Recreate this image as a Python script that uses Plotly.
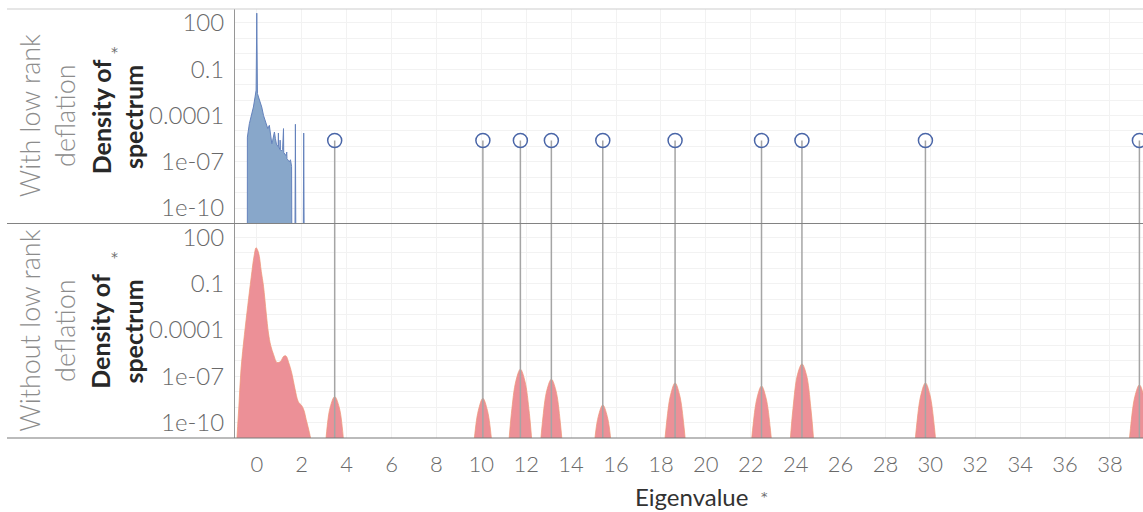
import plotly.graph_objects as go
from plotly.subplots import make_subplots

# ---------------- data ----------------
# Outlier eigenvalues shown as stems, and the density at which they are marked
outlier_eigs = [3.47, 10.07, 11.74, 13.12, 15.41, 18.63, 22.48, 24.28, 29.78, 39.31]
outlier_marker_density = 2.4e-6

# Spectrum with low rank deflation (bulk only), log10 of density
defl_x = [-0.42, -0.418, -0.33, -0.22, -0.15, -0.076, -0.03, 0.0, 0.03, 0.12,
          0.22, 0.30, 0.41, 0.49, 0.56, 0.62, 0.67, 0.71, 0.785, 0.83,
          0.88, 0.95, 0.963, 0.975, 1.0, 1.03, 1.04, 1.05, 1.10, 1.15,
          1.19, 1.20, 1.25, 1.30, 1.335, 1.345, 1.40, 1.45, 1.50, 1.51,
          1.55, 1.56, 1.70, 1.72, 1.74, 2.07, 2.09, 2.11]
defl_logd = [-12, -5.4, -4.53, -3.88, -3.45, -2.8, -2.36, 2.63, -2.58, -3.0,
             -3.45, -4.0, -4.53, -4.85, -4.64, -5.18, -5.83, -5.6, -5.07, -5.5,
             -5.9, -6.0, -5.14, -6.0, -6.1, -6.2, -5.6, -6.2, -6.3, -6.2,
             -4.85, -6.4, -6.5, -6.6, -6.37, -6.8, -6.9, -7.0, -6.87, -7.1,
             -7.3, -12, -12, -4.57, -12, -12, -5.14, -12]

# Spectrum without deflation: bulk hump, log10 of density
bulk_x = [-0.95, -0.9, -0.8, -0.7, -0.55, -0.4, -0.25, -0.12, -0.03, 0.08,
          0.2, 0.3, 0.42, 0.52, 0.62, 0.75, 0.9, 1.05, 1.2, 1.3,
          1.42, 1.56, 1.7, 1.85, 2.0, 2.1, 2.2, 2.32, 2.42, 2.55]
bulk_logd = [-14.0, -11.5, -9.0, -6.5, -4.3, -2.4, -0.6, 0.8, 1.33, 1.0,
             -0.2, -1.17, -2.9, -4.2, -5.0, -5.6, -6.1, -6.05, -5.7, -5.68,
             -6.1, -6.8, -7.8, -8.65, -8.9, -9.2, -9.8, -10.5, -11.2, -13.0]

# Outlier peaks without deflation: offsets from each outlier eigenvalue, log10 density
peak_offsets = [-0.6, -0.4, -0.2, 0.0, 0.2, 0.4, 0.6]
peak_logd = [
    [-14.8, -11.2, -9.0, -8.32, -9.0, -11.2, -14.8],
    [-14.9, -11.3, -9.2, -8.43, -9.2, -11.3, -14.9],
    [-13.0, -9.4, -7.3, -6.54, -7.3, -9.4, -13.0],
    [-13.6, -10.0, -7.9, -7.19, -7.9, -10.0, -13.6],
    [-15.3, -11.7, -9.6, -8.86, -9.6, -11.7, -15.3],
    [-13.9, -10.3, -8.2, -7.43, -8.2, -10.3, -13.9],
    [-14.1, -10.5, -8.4, -7.63, -8.4, -10.5, -14.1],
    [-12.7, -9.1, -6.9, -6.20, -6.9, -9.1, -12.7],
    [-13.9, -10.3, -8.2, -7.43, -8.2, -10.3, -13.9],
    [-14.0, -10.4, -8.3, -7.56, -8.3, -10.4, -14.0],
]

x_ticks = list(range(0, 40, 2))
y_tick_exps = list(range(-11, 3))
y_tick_labels = {2: "100", -1: "0.1", -4: "0.0001", -7: "1e-07", -10: "1e-10"}

# ---------------- styling ----------------
W, H = 1143, 512
L, R, T, B = 235, 0, 9, 74
FONT = "Lato"
BLUE_FILL = "rgb(136,167,202)"
BLUE_LINE = "rgb(100,130,188)"
CIRCLE = "rgb(74,102,168)"
RED_FILL = "rgb(236,144,151)"
RED_LINE = "rgba(238,150,118,0.9)"
STEM = "rgb(165,165,165)"
GRID = "rgb(242,242,242)"


def px_x(p):
    return (p - L) / (W - L - R)


def px_y(p):
    return (H - B - p) / (H - T - B)


fig = make_subplots(rows=2, cols=1, shared_xaxes=True, vertical_spacing=0)

# deflated spectrum
fig.add_trace(go.Scatter(
    x=defl_x, y=[10 ** v for v in defl_logd], mode="lines", fill="toself",
    fillcolor=BLUE_FILL, line=dict(color=BLUE_LINE, width=1),
    hoverinfo="skip", showlegend=False), row=1, col=1)

# stems in the top panel
sx, sy = [], []
for e in outlier_eigs:
    sx += [e, e, None]
    sy += [1e-13, outlier_marker_density, None]
fig.add_trace(go.Scatter(x=sx, y=sy, mode="lines", line=dict(color=STEM, width=1.5),
                         hoverinfo="skip", showlegend=False), row=1, col=1)
fig.add_trace(go.Scatter(
    x=outlier_eigs, y=[outlier_marker_density] * len(outlier_eigs), mode="markers",
    marker=dict(symbol="circle-open", size=14, color=CIRCLE, line=dict(width=1.5)),
    cliponaxis=True, hoverinfo="skip", showlegend=False), row=1, col=1)

# full spectrum: bulk and outlier peaks as filled shapes
rx, ry = list(bulk_x), [10 ** v for v in bulk_logd]
for e, logs in zip(outlier_eigs, peak_logd):
    rx.append(None)
    ry.append(None)
    rx += [e + o for o in peak_offsets]
    ry += [10 ** v for v in logs]
fig.add_trace(go.Scatter(
    x=rx, y=ry, mode="lines", fill="toself", fillcolor=RED_FILL,
    line=dict(color=RED_LINE, width=0.8, shape="spline", smoothing=1.0),
    hoverinfo="skip", showlegend=False), row=2, col=1)

# stems in the bottom panel span the whole pane
bx, by = [], []
for e in outlier_eigs:
    bx += [e, e, None]
    by += [1e-13, 1e4, None]
fig.add_trace(go.Scatter(x=bx, y=by, mode="lines", line=dict(color=STEM, width=1.5),
                         hoverinfo="skip", showlegend=False), row=2, col=1)

ytext = [y_tick_labels.get(k, "") for k in y_tick_exps]
for r in (1, 2):
    fig.update_yaxes(
        type="log", range=[-11.0, 2.9], tickvals=[10 ** k for k in y_tick_exps],
        ticktext=ytext, showgrid=True, gridcolor=GRID, gridwidth=1,
        zeroline=False, showline=True, linecolor="rgb(150,150,150)", linewidth=1,
        ticks="", ticklabelstandoff=5,
        tickfont=dict(family=FONT, size=24, color="rgb(105,105,105)", weight=300),
        row=r, col=1)
    fig.update_xaxes(
        range=[-0.97, 39.47], tickvals=x_ticks, showgrid=True, gridcolor=GRID,
        gridwidth=1, zeroline=False, showline=False, row=r, col=1)

fig.update_xaxes(showticklabels=False, ticks="", row=1, col=1)
fig.update_xaxes(showticklabels=True, ticks="", ticklabelstandoff=11,
                 tickfont=dict(family=FONT, size=22, color="rgb(105,105,105)", weight=300),
                 row=2, col=1)

# pane borders spanning the header column
shapes = []
for py, col in ((T, "rgb(205,205,205)"), ((T + H - B) / 2, "rgb(130,130,130)"),
                (H - B, "rgb(120,120,120)")):
    shapes.append(dict(type="line", xref="paper", yref="paper",
                       x0=px_x(7), x1=1, y0=px_y(py), y1=px_y(py),
                       line=dict(color=col, width=1.2)))

annotations = []
pane_mid = [(T + (T + H - B) / 2) / 2, ((T + H - B) / 2 + H - B) / 2]
row_names = ["With low rank<br>deflation", "Without low rank<br>deflation"]
for mid, name in zip(pane_mid, row_names):
    annotations.append(dict(
        text=name, x=px_x(47), y=px_y(mid), xref="paper", yref="paper",
        textangle=-90, showarrow=False, xanchor="center", yanchor="middle",
        font=dict(family=FONT, size=27, color="rgb(140,140,140)", weight=300)))
    annotations.append(dict(
        text="<b>Density of<br>spectrum</b>", x=px_x(117), y=px_y(mid),
        xref="paper", yref="paper", textangle=-90, showarrow=False,
        xanchor="center", yanchor="middle",
        font=dict(family=FONT, size=25, color="rgb(40,40,40)")))
    annotations.append(dict(
        text="*", x=px_x(109), y=px_y(mid - 74), xref="paper", yref="paper",
        showarrow=False, font=dict(family="DejaVu Sans", size=14, color="rgb(110,110,110)")))

annotations.append(dict(
    text="Eigenvalue", x=px_x(691), y=px_y(496), xref="paper", yref="paper",
    showarrow=False, xanchor="center", yanchor="middle",
    font=dict(family=FONT, size=24, color="rgb(50,50,50)")))
annotations.append(dict(
    text="*", x=px_x(764), y=px_y(506), xref="paper", yref="paper",
    showarrow=False, font=dict(family="DejaVu Sans", size=13, color="rgb(110,110,110)")))

fig.update_layout(
    width=W, height=H, margin=dict(l=L, r=R, t=T, b=B),
    paper_bgcolor="white", plot_bgcolor="white",
    shapes=shapes, annotations=annotations, showlegend=False,
)

fig.write_html("out.html")
